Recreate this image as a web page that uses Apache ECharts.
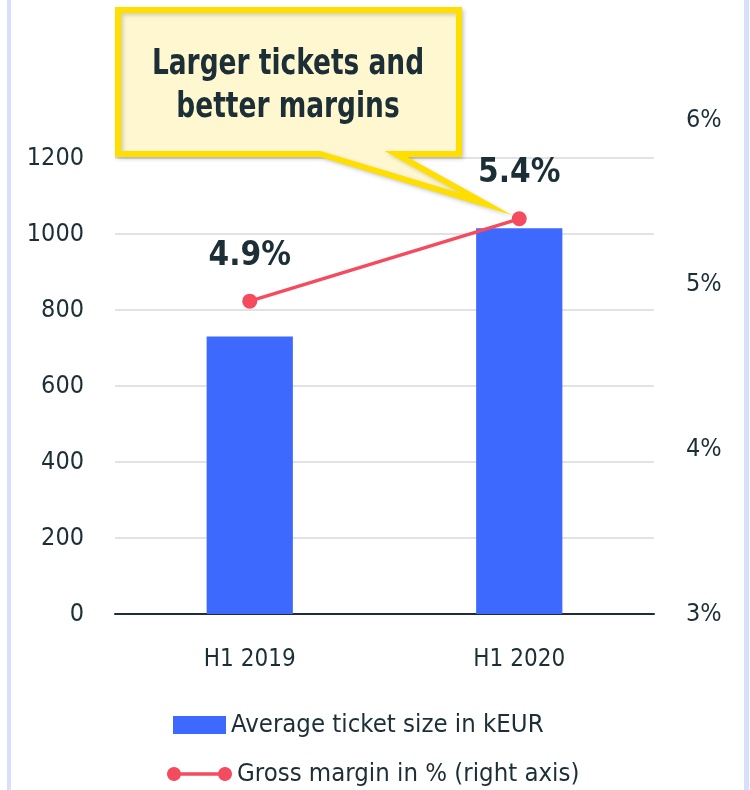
<!DOCTYPE html>
<html>
<head>
<meta charset="utf-8">
<style>
  html, body { margin: 0; padding: 0; background: #ffffff; }
  #chart { width: 750px; height: 790px; }
</style>
<script src="https://cdn.jsdelivr.net/npm/echarts@6/dist/echarts.min.js"></script>
</head>
<body>
<div id="chart"></div>
<script>
// Half-year categories
const categories = ['H1 2019', 'H1 2020'];
// Average ticket size (kEUR), left axis
const ticketSize = [730, 1015];
// Gross margin (%), right axis
const grossMargin = [4.9, 5.4];
// Legend names
const seriesNames = ['Average ticket size in kEUR', 'Gross margin in % (right axis)'];
// Callout text
const calloutLines = ['Larger tickets and', 'better margins'];

const FONT = "'Noto Sans Condensed', 'Liberation Sans Narrow', 'DejaVu Sans Condensed', 'Roboto', sans-serif";
const INK = '#1c2f36';
const BLUE = '#3d69ff';
const RED = '#f54b5f';

const chart = echarts.init(document.getElementById('chart'), null, { renderer: 'canvas' });

// Legend marker for the line series: a segment with a filled dot at each end.
// Dots are built as polygons so the path's bounding box is exact.
function dotPath(cx, cy, r) {
  const n = 24;
  let d = '';
  for (let i = 0; i < n; i++) {
    const a = (i / n) * Math.PI * 2;
    d += (i === 0 ? 'M' : 'L') + (cx + r * Math.cos(a)).toFixed(2) + ',' + (cy + r * Math.sin(a)).toFixed(2);
  }
  return d + 'Z';
}
const lineIcon = 'path://' + dotPath(7, 7, 7) + dotPath(58, 7, 7) + 'M7,5.3L58,5.3L58,8.7L7,8.7Z';

chart.setOption({
  backgroundColor: '#ffffff',
  animation: false,
  textStyle: { fontFamily: FONT, color: INK },
  grid: { left: 115, right: 96, top: 120, bottom: 176, containLabel: false },
  legend: [
    {
      data: [{ name: seriesNames[0], icon: 'rect' }],
      left: 173, top: 712, padding: 0,
      itemWidth: 53, itemHeight: 18,
      textStyle: { fontFamily: FONT, fontSize: 25.5, color: INK }
    },
    {
      data: [{ name: seriesNames[1], icon: lineIcon }],
      left: 167, top: 761, padding: 0,
      itemWidth: 65, itemHeight: 14,
      itemStyle: { color: RED },
      textStyle: { fontFamily: FONT, fontSize: 25.5, color: INK }
    }
  ],
  xAxis: {
    type: 'category',
    data: categories,
    axisLine: { lineStyle: { color: INK, width: 2 } },
    axisTick: { show: false },
    axisLabel: { margin: 34, fontSize: 24, color: INK, fontFamily: FONT }
  },
  yAxis: [
    {
      type: 'value',
      min: 0, max: 1300, interval: 200,
      axisLine: { show: false },
      axisTick: { show: false },
      axisLabel: {
        margin: 31, fontSize: 25, color: INK, fontFamily: FONT,
        showMaxLabel: false,
        formatter: (v) => String(v)
      },
      splitLine: { showMaxLine: false, lineStyle: { color: '#d9d9d9', width: 1.5 } }
    },
    {
      type: 'value',
      min: 3, max: 6, interval: 1,
      position: 'right',
      axisLine: { show: false },
      axisTick: { show: false },
      axisLabel: { margin: 32, fontSize: 25, color: INK, fontFamily: FONT, formatter: '{value}%' },
      splitLine: { show: false }
    }
  ],
  series: [
    {
      name: seriesNames[0],
      type: 'bar',
      data: ticketSize,
      barWidth: '32%',
      itemStyle: { color: BLUE },
      z: 2
    },
    {
      name: seriesNames[1],
      type: 'line',
      yAxisIndex: 1,
      data: grossMargin,
      symbol: 'circle',
      symbolSize: 15,
      lineStyle: { color: RED, width: 3.5 },
      itemStyle: { color: RED },
      label: {
        show: true,
        position: 'top',
        distance: 21,
        formatter: (p) => p.value.toFixed(1) + '%',
        fontFamily: FONT,
        fontWeight: 'bold',
        fontSize: 33,
        color: INK
      },
      z: 3
    }
  ],
  graphic: [
    // thin side frame lines
    { type: 'rect', shape: { x: 7, y: 0, width: 4, height: 790 }, style: { fill: '#d6e0fb' }, z: 0 },
    { type: 'rect', shape: { x: 744, y: 0, width: 5, height: 790 }, style: { fill: '#d6e0fb' }, z: 0 },
    // speech-bubble callout
    {
      type: 'polygon',
      shape: {
        points: [[118, 10], [459, 10], [459, 154], [396, 154], [486, 204], [320, 154], [118, 154]]
      },
      style: {
        fill: '#fff7cf',
        stroke: '#ffdf00',
        lineWidth: 6,
        lineJoin: 'miter',
        shadowBlur: 4,
        shadowOffsetX: 2,
        shadowOffsetY: 2,
        shadowColor: 'rgba(0,0,0,0.18)'
      },
      z: 10
    },
    {
      type: 'text',
      x: 288, y: 86,
      scaleX: 0.84,
      style: {
        text: calloutLines.join('\n'),
        align: 'center',
        verticalAlign: 'middle',
        lineHeight: 43,
        fontFamily: FONT,
        fontWeight: 'bold',
        fontSize: 35,
        fill: INK
      },
      z: 11
    }
  ]
});
</script>
</body>
</html>
